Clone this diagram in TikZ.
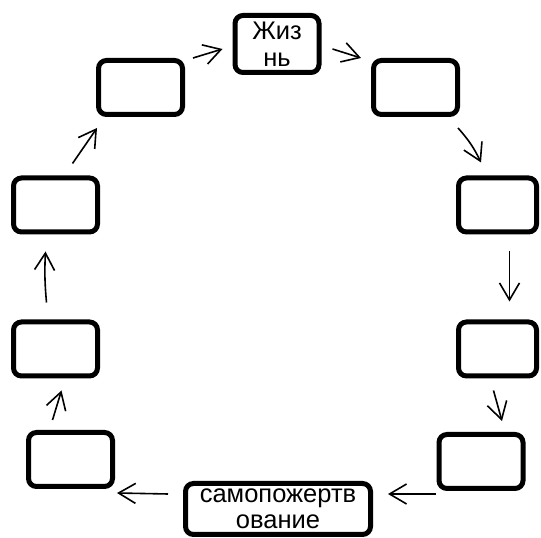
\documentclass[tikz,border=0pt]{standalone}
\usepackage{fontspec}
\setmainfont{Liberation Sans}
\usetikzlibrary{arrows.meta}

\tikzset{
  stage/.style={draw,line width=5pt,rounded corners=8pt,minimum width=84pt,minimum height=54pt,inner sep=2pt,align=center,font=\fontsize{25.5}{26.5}\selectfont},
  narrow/.style={stage,minimum width=78pt},
  cyc/.style={-{Straight Barb[length=17pt,width=20pt]},line width=1.6pt},
}

\begin{document}
\begin{tikzpicture}[x=1pt,y=1pt]
\useasboundingbox (0,0) rectangle (541,538);

% Stages of the cycle
\node[stage,minimum height=57pt] (life) at (277,494) {Жиз\\нь};
\node[stage] (ul) at (140.5,450.5) {};
\node[stage] (ur) at (415.5,450.5) {};
\node[stage] (l3) at (55.5,333) {};
\node[narrow] (r3) at (497.5,333) {};
\node[stage] (l4) at (55.5,189) {};
\node[narrow] (r4) at (497.5,189) {};
\node[stage] (bl) at (70.5,78.5) {};
\node[stage] (br) at (481,76.5) {};
\node[stage,minimum width=185pt,minimum height=51pt] (sacr) at (278,29) {самопожертв\\ование};

% Arrows round the cycle
\draw[cyc] ([xshift=8pt]ul.north east) -- ([xshift=-10pt,yshift=-5pt]life.west);
\draw[cyc] ([xshift=11pt,yshift=-5pt]life.east) -- ([xshift=-10pt]ur.north west);
\draw[cyc] ([xshift=-2pt,yshift=-11pt]ur.south east) to[bend left=8] ([xshift=25pt,yshift=13pt]r3.north west);
\draw[cyc] ([xshift=12pt,yshift=-17pt]r3.south) -- ([xshift=12pt,yshift=18pt]r4.north);
\draw[cyc] ([xshift=-4pt,yshift=-12pt]r4.south) -- ([xshift=21pt,yshift=11pt]br.north);
\draw[cyc] ([xshift=-1pt,yshift=-3pt]br.south west) -- ([xshift=15pt,yshift=-13pt]sacr.north east);
\draw[cyc] ([xshift=-15pt,yshift=-13pt]sacr.north west) -- ([xshift=2pt,yshift=-4pt]bl.south east);
\draw[cyc] ([xshift=-18pt,yshift=10pt]bl.north) -- ([xshift=6pt,yshift=-12pt]l4.south);
\draw[cyc] ([xshift=-9pt,yshift=17pt]l4.north) to[bend left=4] ([xshift=-10pt,yshift=-17pt]l3.south);
\draw[cyc] ([xshift=17pt,yshift=12pt]l3.north) -- ([xshift=1pt,yshift=-11pt]ul.south west);
\end{tikzpicture}
\end{document}
